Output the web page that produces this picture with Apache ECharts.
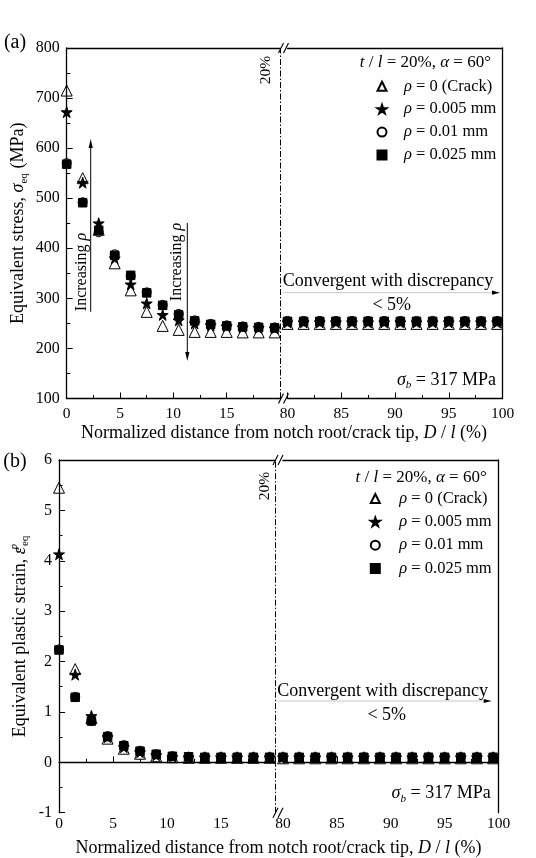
<!DOCTYPE html>
<html>
<head>
<meta charset="utf-8">
<script src="https://cdn.jsdelivr.net/npm/echarts@6/dist/echarts.min.js"></script>
<style>
  body { margin: 0; background: #fff; }
  #a { position: absolute; left: 0; top: 0; width: 536px; height: 452px; }
  #b { position: absolute; left: 0; top: 429px; width: 536px; height: 429px; }
</style>
</head>
<body>
<div id="a"></div>
<div id="b"></div>
<script>
// distances D / l (%) on the two parts of the broken axis
var xLeft = [0, 1.5, 3, 4.5, 6, 7.5, 9, 10.5, 12, 13.5, 15, 16.5, 18, 19.5];
var xRight = [80, 81.5, 83, 84.5, 86, 87.5, 89, 90.5, 92, 93.5, 95, 96.5, 98, 99.5];

var seriesNames = ['ρ = 0 (Crack)', 'ρ = 0.005 mm', 'ρ = 0.01 mm', 'ρ = 0.025 mm'];

// (a) equivalent stress, MPa
var stressCrack = [715, 540, 437, 370, 316, 273, 245, 237, 233, 233, 233, 232, 232, 232];
var stressRho005 = [672, 531, 450, 380, 328, 290, 267, 256, 250, 246, 244, 242, 241, 240];
var stressRho01 = [570, 492, 432, 388, 345, 312, 287, 269, 256, 249, 246, 244, 243, 242];
var stressRho025 = [568, 491, 436, 386, 346, 311, 286, 267, 255, 248, 245, 243, 242, 241];
var stressCrackR = [249, 249, 249, 249, 249, 249, 249, 249, 249, 249, 249, 249, 249, 249];
var stressRho005R = [252, 252, 252, 252, 252, 252, 252, 252, 252, 252, 252, 252, 252, 252];
var stressRho01R = [255, 255, 255, 255, 255, 255, 255, 255, 255, 255, 255, 255, 255, 255];
var stressRho025R = [254, 254, 254, 254, 254, 254, 254, 254, 254, 254, 254, 254, 254, 254];

// (b) equivalent plastic strain
var strainCrack = [5.45, 1.85, 0.88, 0.47, 0.27, 0.17, 0.12, 0.10, 0.09, 0.09, 0.09, 0.09, 0.09, 0.09];
var strainRho005 = [4.13, 1.74, 0.92, 0.50, 0.30, 0.20, 0.14, 0.11, 0.10, 0.10, 0.10, 0.10, 0.10, 0.10];
var strainRho01 = [2.24, 1.30, 0.82, 0.52, 0.34, 0.23, 0.16, 0.12, 0.10, 0.10, 0.10, 0.10, 0.10, 0.10];
var strainRho025 = [2.23, 1.29, 0.82, 0.51, 0.33, 0.22, 0.16, 0.12, 0.11, 0.10, 0.10, 0.10, 0.10, 0.10];
var strainCrackR = [0.08, 0.08, 0.08, 0.08, 0.08, 0.08, 0.08, 0.08, 0.08, 0.08, 0.08, 0.08, 0.08, 0.08];
var strainRho005R = [0.10, 0.10, 0.10, 0.10, 0.10, 0.10, 0.10, 0.10, 0.10, 0.10, 0.10, 0.10, 0.10, 0.10];
var strainRho01R = [0.10, 0.10, 0.10, 0.10, 0.10, 0.10, 0.10, 0.10, 0.10, 0.10, 0.10, 0.10, 0.10, 0.10];
var strainRho025R = [0.10, 0.10, 0.10, 0.10, 0.10, 0.10, 0.10, 0.10, 0.10, 0.10, 0.10, 0.10, 0.10, 0.10];

var FONT = '"Liberation Serif", "Times New Roman", serif';
var STAR = 'path://M50,2 L61.2,36.3 L97.6,36.3 L68.2,57.6 L79.4,91.9 L50,70.7 L20.6,91.9 L31.8,57.6 L2.4,36.3 L38.8,36.3 Z';
var markers = [
  { symbol: 'triangle', size: 11, color: 'rgba(0,0,0,0)' },
  { symbol: STAR, size: 11, color: '#000' },
  { symbol: 'circle', size: 9, color: 'rgba(0,0,0,0)' },
  { symbol: 'rect', size: 8.5, color: '#000' }
];

function rich(size, gap) {
  return {
    n: { fontFamily: FONT, fontSize: size, color: '#000', lineHeight: size + 4 },
    i: { fontFamily: FONT, fontSize: size, fontStyle: 'italic', color: '#000', lineHeight: size + 4 },
    sub: { fontFamily: FONT, fontSize: size * 0.62, color: '#000', lineHeight: size * 0.7, verticalAlign: 'bottom' },
    subi: { fontFamily: FONT, fontSize: size * 0.62, fontStyle: 'italic', color: '#000', lineHeight: size * 0.7, verticalAlign: 'bottom' },
    supi: { fontFamily: FONT, fontSize: size * 0.62, fontStyle: 'italic', color: '#000', lineHeight: size * 0.7, verticalAlign: 'top', width: 1 },
    g: { width: gap || 0 }
  };
}

function txt(x, y, text, size, opts) {
  opts = opts || {};
  return {
    type: 'text', x: x, y: y, rotation: opts.rot || 0,
    style: {
      text: text, fontFamily: FONT, fontSize: size, fill: '#000',
      align: opts.align || 'center', verticalAlign: 'middle', rich: rich(size)
    }
  };
}

function line(x1, y1, x2, y2, color, w) {
  return { type: 'line', shape: { x1: x1, y1: y1, x2: x2, y2: y2 }, style: { stroke: color || '#000', lineWidth: w || 1 } };
}

function head(points) {
  return { type: 'polygon', shape: { points: points }, style: { fill: '#000' } };
}

function breakMarks(x, yTop, yBot) {
  var g = [];
  [yTop, yBot].forEach(function (y) {
    g.push(line(x, y + 5, x + 5, y - 5, '#000', 1.1));
    g.push(line(x + 5, y + 5, x + 10, y - 5, '#000', 1.1));
  });
  return g;
}

function makeChart(id, cfg) {
  var chart = echarts.init(document.getElementById(id));
  var axisLine = { show: true, lineStyle: { color: '#000', width: 1.3 } };
  var grids = [
    { left: cfg.left0, top: cfg.top, width: cfg.width0, height: cfg.height },
    { left: cfg.left1, top: cfg.top, width: cfg.width1, height: cfg.height }
  ];
  function bottomAxis(g, min, max, margin) {
    return {
      gridIndex: g, type: 'value', min: min, max: max, interval: 5, position: 'bottom',
      axisLine: axisLine,
      axisTick: { inside: true, length: 6, lineStyle: { color: '#000' } },
      minorTick: { show: true, splitNumber: 2, length: 3.5, lineStyle: { color: '#000' } },
      splitLine: { show: false },
      axisLabel: {
        fontFamily: FONT, fontSize: 15.5, color: '#000', margin: margin,
        formatter: function (v) { return (g === 0 && v === 20) ? '' : String(v); }
      }
    };
  }
  function topAxis(g, min, max) {
    return {
      gridIndex: g, type: 'value', min: min, max: max, position: 'top',
      axisLine: axisLine, axisTick: { show: false }, axisLabel: { show: false }, splitLine: { show: false }
    };
  }
  var xAxis = [
    bottomAxis(0, 0, 20, cfg.xMargin), bottomAxis(1, 80, 100, cfg.xMargin),
    topAxis(0, 0, 20), topAxis(1, 80, 100)
  ];
  var yAxis = [
    {
      gridIndex: 0, type: 'value', min: cfg.yMin, max: cfg.yMax, interval: cfg.yStep,
      axisLine: axisLine,
      axisTick: { inside: true, length: 6, lineStyle: { color: '#000' } },
      minorTick: { show: true, splitNumber: 2, length: 3.5, lineStyle: { color: '#000' } },
      splitLine: { show: false },
      axisLabel: { fontFamily: FONT, fontSize: 16, color: '#000', margin: 7 },
      name: cfg.yName, nameLocation: 'middle', nameRotate: 90, nameGap: cfg.nameGap,
      nameTextStyle: { fontFamily: FONT, fontSize: 18, color: '#000', lineHeight: 22, rich: rich(18) }
    },
    {
      gridIndex: 1, type: 'value', min: cfg.yMin, max: cfg.yMax, position: 'right',
      axisLine: axisLine, axisTick: { show: false }, axisLabel: { show: false }, splitLine: { show: false }
    }
  ];

  var series = [];
  [3, 2, 0, 1].forEach(function (k) {
    [0, 1].forEach(function (seg) {
      var xs = seg === 0 ? xLeft : xRight;
      var ys = cfg.values[k][seg];
      var s = {
        name: seriesNames[k], type: 'scatter',
        xAxisIndex: seg, yAxisIndex: seg,
        symbol: markers[k].symbol, symbolSize: markers[k].size,
        itemStyle: { color: markers[k].color, borderColor: '#000', borderWidth: 1, opacity: 1 },
        emphasis: { disabled: true },
        data: xs.map(function (x, i) { return [x, ys[i]]; })
      };
      if (k === 3 && seg === 0) {
        s.markLine = {
          silent: true, symbol: 'none', label: { show: false },
          lineStyle: { color: '#000', width: 1, type: [6, 2, 1.5, 2] },
          data: [{ xAxis: 20 }]
        };
      }
      series.push(s);
    });
  });

  chart.setOption({
    animation: false,
    backgroundColor: cfg.bg,
    grid: grids,
    xAxis: xAxis,
    yAxis: yAxis,
    legend: {
      data: seriesNames, orient: 'vertical', selectedMode: false, padding: 0,
      left: cfg.legendLeft, top: cfg.legendTop, itemWidth: 9, itemHeight: 9, itemGap: cfg.legendGap,
      textStyle: { fontFamily: FONT, fontSize: 16.5, color: '#000', lineHeight: 20, rich: rich(16.5, cfg.legendPad) },
      formatter: function (n) { return '{g|}{i|ρ}{n|' + n.slice(1) + '}'; }
    },
    graphic: cfg.graphic,
    series: series
  });
}

// panel (a)
var gA = [
  txt(15, 43, '(a)', 20),
  txt(266, 70, '20%', 15.5, { rot: Math.PI / 2 }),
  txt(491, 63, '{i|t}{n| / }{i|l}{n| = 20%, }{i|α}{n| = 60°}', 17, { align: 'right' }),
  line(90.7, 311.7, 90.7, 146),
  head([[90.7, 139], [88.6, 148], [92.8, 148]]),
  txt(82, 272, '{n|Increasing }{i|ρ}', 16, { rot: Math.PI / 2 }),
  line(187.3, 223, 187.3, 354),
  head([[187.3, 361], [185.2, 352], [189.4, 352]]),
  txt(177, 262, '{n|Increasing }{i|ρ}', 16, { rot: Math.PI / 2 }),
  txt(282.7, 281.7, 'Convergent with discrepancy', 18, { align: 'left' }),
  line(283, 292.7, 494, 292.7, '#c8c8c8', 1),
  head([[500, 292.7], [492, 290.6], [492, 294.8]]),
  txt(391.7, 305, '< 5%', 18),
  txt(496, 380, '{i|σ}{subi|b}{n| = 317 MPa}', 18, { align: 'right' }),
  txt(284, 433.3, '{n|Normalized distance from notch root/crack tip, }{i|D}{n| / }{i|l}{n| (%)}', 18)
].concat(breakMarks(278.5, 48, 398.5));

makeChart('a', {
  bg: '#fff',
  left0: 66.7, width0: 213.3, left1: 287.5, width1: 215, top: 48, height: 350.5,
  yMin: 100, yMax: 800, yStep: 100, nameGap: 37, xMargin: 7,
  yName: '{n|Equivalent stress, }{i|σ}{sub|eq}{n| (MPa)}',
  values: [
    [stressCrack, stressCrackR], [stressRho005, stressRho005R],
    [stressRho01, stressRho01R], [stressRho025, stressRho025R]
  ],
  legendLeft: 376.5, legendTop: 76, legendGap: 2.4, legendPad: 12.5,
  graphic: gA
});

// panel (b)
var gB = [
  txt(15, 32.7, '(b)', 20),
  txt(265, 57, '20%', 15.5, { rot: Math.PI / 2 }),
  txt(486.7, 48.3, '{i|t}{n| / }{i|l}{n| = 20%, }{i|α}{n| = 60°}', 17, { align: 'right' }),
  txt(277.3, 262.7, 'Convergent with discrepancy', 18, { align: 'left' }),
  line(277, 272, 485, 272, '#c8c8c8', 1),
  head([[491.7, 272], [483.7, 269.9], [483.7, 274.1]]),
  txt(386.7, 286, '< 5%', 18),
  txt(490.7, 364.3, '{i|σ}{subi|b}{n| = 317 MPa}', 18, { align: 'right' }),
  txt(278.5, 419.3, '{n|Normalized distance from notch root/crack tip, }{i|D}{n| / }{i|l}{n| (%)}', 18)
].concat(breakMarks(273, 31, 383.7));

makeChart('b', {
  bg: 'transparent',
  left0: 59, width0: 216, left1: 283, width1: 215.5, top: 31, height: 352.7,
  yMin: -1, yMax: 6, yStep: 1, nameGap: 28, xMargin: 3,
  yName: '{n|Equivalent plastic strain, }{i|ε}{supi|p}{sub|eq}',
  values: [
    [strainCrack, strainCrackR], [strainRho005, strainRho005R],
    [strainRho01, strainRho01R], [strainRho025, strainRho025R]
  ],
  legendLeft: 369.8, legendTop: 59.3, legendGap: 2.8, legendPad: 14.5,
  graphic: gB
});
</script>
</body>
</html>
